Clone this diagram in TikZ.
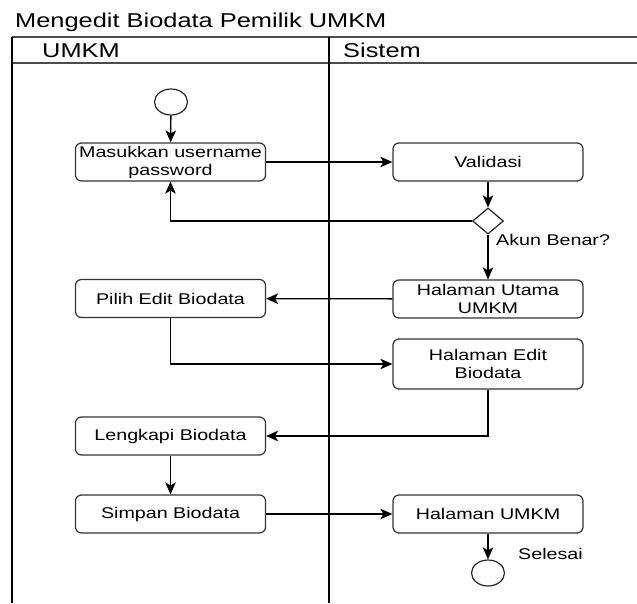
\documentclass[tikz,border=0pt]{standalone}
\usepackage{fontspec}
\setmainfont{Liberation Sans}[FakeStretch=1.27]
\usetikzlibrary{arrows.meta,shapes.geometric}

\tikzset{
  lane/.style={line width=1.3pt, draw=black},
  laneh/.style={line width=1.7pt, draw=black!70},
  act/.style={draw=black!80, line width=1.2pt, rounded corners=6pt, fill=white,
    minimum width=190pt, minimum height=38pt, inner sep=0pt, align=center,
    font=\fontsize{15.5pt}{18pt}\selectfont},
  decision/.style={draw=black!85, line width=1.2pt, diamond, aspect=1.2,
    minimum width=31pt, minimum height=26pt, inner sep=0pt},
  terminal/.style={draw=black!85, line width=1.2pt, ellipse,
    minimum width=33pt, minimum height=26pt, inner sep=0pt},
  arr/.style={line width=1.3pt, -{Stealth[length=12pt,width=10.5pt,inset=3pt]}},
  lbl/.style={inner sep=0pt, font=\fontsize{15.5pt}{18pt}\selectfont},
  head/.style={inner sep=0pt, font=\fontsize{20pt}{23pt}\selectfont},
}

\begin{document}
\begin{tikzpicture}[x=1pt,y=-1pt]
  \useasboundingbox (0,0) rectangle (637,603);

  % title
  \node[head, anchor=base west] (title) at (15,27) {Mengedit Biodata Pemilik UMKM};

  % swimlanes
  \draw[laneh] (12,37) -- (637,37);
  \draw[laneh] (12,63) -- (637,63);
  \draw[lane] (12,37) -- (12,603);
  \draw[lane] (329,37) -- (329,603);
  \node[head, anchor=base west] (laneA) at (42,57) {UMKM};
  \node[head, anchor=base west] (laneB) at (343,57) {Sistem};

  % activities
  \node[terminal] (start) at (171,102) {};
  \node[act] (masuk) at (170.5,162) {Masukkan username\\password};
  \node[act] (valid) at (488,162) {Validasi};
  \node[decision] (cek) at (488,221) {};
  \node[act] (utama) at (488,299) {Halaman Utama\\UMKM};
  \node[act] (pilih) at (170.5,298.5) {Pilih Edit Biodata};
  \node[act, minimum height=50pt] (edit) at (488,364) {Halaman Edit\\Biodata};
  \node[act] (lengkap) at (170.5,436) {Lengkapi Biodata};
  \node[act] (simpan) at (170.5,514) {Simpan Biodata};
  \node[act] (hal) at (488,514) {Halaman UMKM};
  \node[terminal] (selesai) at (488,573) {};

  % labels
  \node[lbl, anchor=west] (akun) at (496,240) {Akun Benar?};
  \node[lbl, anchor=west] (lselesai) at (518,554) {Selesai};

  % flow
  \draw[arr] (start) -- (masuk);
  \draw[arr] (masuk) -- (valid);
  \draw[arr] (valid) -- (cek);
  \draw[arr] (cek.west) -| (masuk.south);
  \draw[arr] (cek.south) -- (utama);
  \draw[arr] (utama) -- (pilih);
  \draw[arr] (pilih.south) |- (edit.west);
  \draw[arr] (edit.south) |- (lengkap.east);
  \draw[arr] (lengkap) -- (simpan);
  \draw[arr] (simpan) -- (hal);
  \draw[arr] (hal) -- (selesai);
\end{tikzpicture}
\end{document}
